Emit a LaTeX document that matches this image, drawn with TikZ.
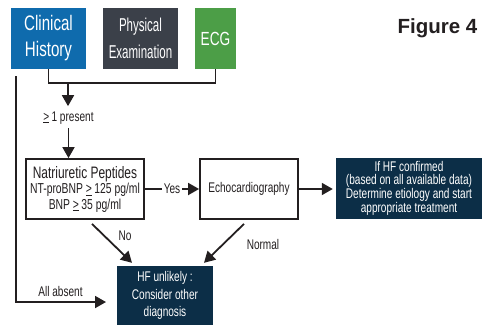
\documentclass[tikz,border=0pt]{standalone}
\usepackage{fontspec}
\setmainfont{Liberation Sans}
\newfontfamily\condfont{Liberation Sans}[FakeStretch=0.72]
\newfontfamily\narrowfont{Liberation Sans}[FakeStretch=0.62]
\usetikzlibrary{positioning, calc, arrows.meta}
\definecolor{histblue}{HTML}{0F6BAD}
\definecolor{examgray}{HTML}{3B4049}
\definecolor{ecggreen}{HTML}{4C9E47}
\definecolor{navy}{HTML}{0C2E47}
\definecolor{ink}{HTML}{231F20}

\begin{document}
\begin{tikzpicture}[x=1pt, y=-1pt,
    every node/.style={font=\condfont\fontsize{14}{15}\selectfont, text=ink, inner sep=0pt},
    topbox/.style={minimum height=61pt, text=white, align=center},
    whitebox/.style={draw=ink, line width=1.8pt, fill=white, align=center},
    navybox/.style={fill=navy, text=white, align=center},
    link/.style={draw=ink, line width=1.8pt},
    arr/.style={link, -{Triangle[width=12pt,length=11pt]}}]
            \useasboundingbox (0,0) rectangle (483,325);

            \node[topbox, fill=histblue, minimum width=75pt, font=\condfont\fontsize{21}{26}\selectfont] (hist) at (48.5,38.5) {Clinical\\History};
            \node[topbox, fill=examgray, minimum width=75pt, font=\narrowfont\fontsize{18.6}{27}\selectfont] (exam) at (140.5,38.5) {Physical\\Examination};
            \node[topbox, fill=ecggreen, minimum width=41pt, font=\condfont\fontsize{19}{20}\selectfont] (ecg) at (215.5,38.5) {ECG};
            \node[anchor=base, font=\rmfamily\bfseries\fontsize{20.5}{24}\selectfont] (fig) at (437.5,33) {Figure 4};

            \coordinate (join) at (68,83);
            \node[anchor=base] (present) at (68.5,121) {\underline{>}\,1 present};

            \node[whitebox, minimum width=118pt, minimum height=60pt, font=\condfont\fontsize{14.4}{15.5}\selectfont] (np) at (85,189)
                {{\fontsize{16.6}{18}\selectfont Natriuretic Peptides}\\NT-proBNP \underline{>}\,125 pg/ml\\BNP \underline{>}\,35 pg/ml};
            \node[whitebox, minimum width=98pt, minimum height=60pt] (echo) at (249,189) {Echocardiography};
            \node[navybox, minimum width=146pt, minimum height=61pt, font=\condfont\fontsize{14}{13}\selectfont] (conf) at (409,188.5)
                {If HF confirmed\\(based on all available data)\\Determine etiology and start\\appropriate treatment};
            \node[navybox, minimum width=96pt, minimum height=59pt, font=\condfont\fontsize{14}{17.5}\selectfont] (unlikely) at (165,295.5)
                {HF unlikely :\\Consider other\\diagnosis};

            \coordinate (side) at (16,76);
            \coordinate (absent) at (106,302);
            \node (no) at (125,236) {No};
            \node (normal) at (263,244) {Normal};
            \node (allabsent) at (60.5,291) {All absent};

            \draw[link] (hist.south) |- (join) -| (ecg.south);
            \draw[arr, shorten >=5pt] (join) -- (join |- present.north);
            \draw[arr, shorten <=4pt] (present.south) -- (present.south |- np.north);
            \draw[arr] (np.east) -- node[fill=white, inner xsep=1.5pt, inner ysep=2pt] (yes) {Yes} (echo.west);
            \draw[arr, shorten >=3pt] (echo.east) -- (echo.east -| conf.west);
            \draw[arr] ($(np.south)+(7,4)$) -- ($(unlikely.north)+(-33,-3)$);
            \draw[arr] ($(echo.south)+(-5,4)$) -- ($(unlikely.north)+(39,-3)$);
            \draw[arr] (side) |- (absent);
        \end{tikzpicture}
\end{document}
